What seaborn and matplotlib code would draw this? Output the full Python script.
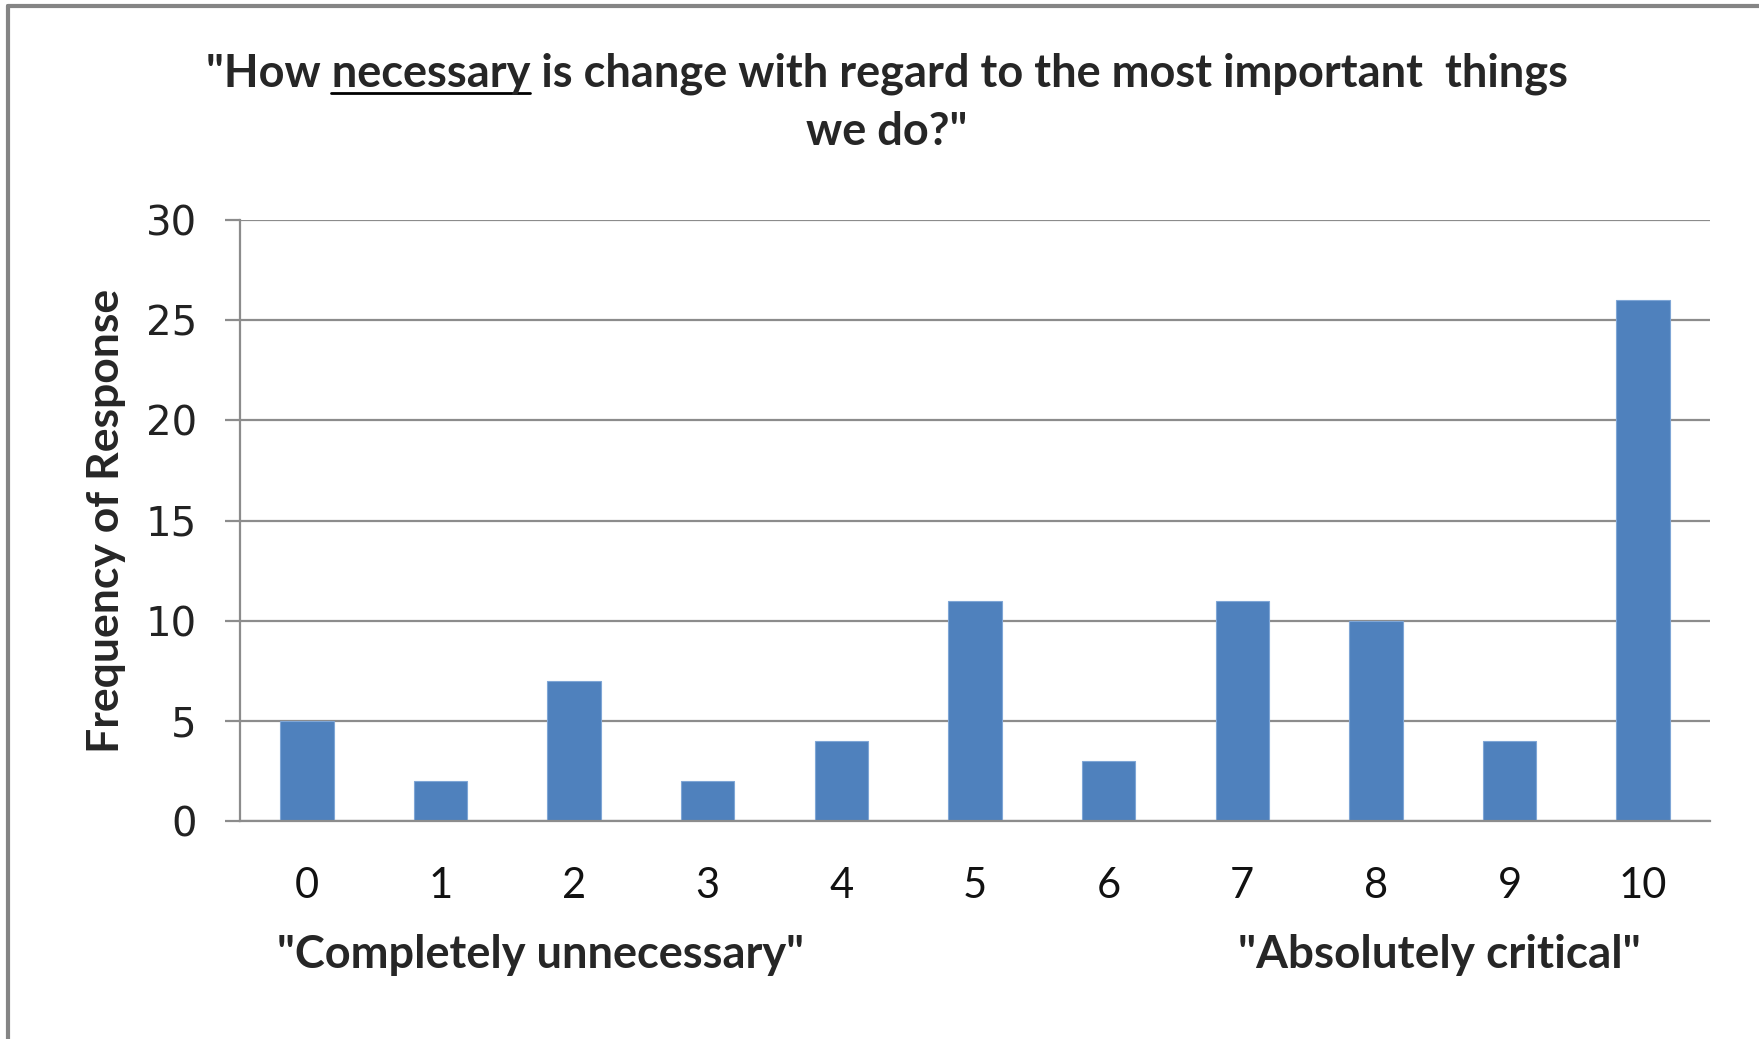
import matplotlib
matplotlib.use("Agg")
import matplotlib.pyplot as plt
from matplotlib.lines import Line2D
import seaborn as sns
import pandas as pd

# Survey responses: rating scale 0-10 and how many people chose each
ratings = ["0", "1", "2", "3", "4", "5", "6", "7", "8", "9", "10"]
counts = [5, 2, 7, 2, 4, 11, 3, 11, 10, 4, 26]
y_ticks = [0, 5, 10, 15, 20, 25, 30]

title_line1 = '"How necessary is change with regard to the most important  things'
title_line2 = 'we do?"'
underlined_word = "necessary"
y_label = "Frequency of Response"
low_anchor = '"Completely unnecessary"'
high_anchor = '"Absolutely critical"'

BAR = "#4F81BD"
GRID = "#8C8C8C"
TEXT_FONT = ["Lato", "DejaVu Sans"]
TITLE_SIZE = 32.5

sns.set_theme(style="white")
plt.rcParams["font.family"] = TEXT_FONT

W, H, DPI = 1759, 1039, 100
fig = plt.figure(figsize=(W / DPI, H / DPI), dpi=DPI)
fig.patch.set_facecolor("white")
ax = fig.add_axes([240 / W, 1 - 821 / H, (1710 - 240) / W, (821 - 220) / H])

df = pd.DataFrame({"rating": ratings, "count": counts})
sns.barplot(data=df, x="rating", y="count", order=ratings, color=BAR,
            width=0.4, saturation=1, edgecolor="#7FA6D6", linewidth=0.8, ax=ax)

ax.set_xlim(-0.5, len(ratings) - 0.5)
ax.set_ylim(0, 30)
ax.set_yticks(y_ticks)
ax.set_yticklabels([str(t) for t in y_ticks], family="DejaVu Sans", fontsize=29, color="#222222")
ax.yaxis.grid(True, color=GRID, linewidth=1.6)
ax.set_axisbelow(True)

# Category labels sit between tick marks, which fall on category boundaries
ax.set_xticks(range(len(ratings)))
ax.set_xticklabels(ratings, fontsize=30, color="#111111")
ax.set_xticks([i - 0.5 for i in range(len(ratings) + 1)], minor=True)
ax.tick_params(axis="x", which="major", length=0, pad=33)
ax.tick_params(axis="x", which="minor", length=11, width=1.6, color=GRID, direction="out")
ax.tick_params(axis="y", which="major", length=11, width=1.6, color=GRID, direction="out", pad=20, left=True)

for side in ("top", "right"):
    ax.spines[side].set_visible(False)
for side in ("left", "bottom"):
    ax.spines[side].set_color(GRID)
    ax.spines[side].set_linewidth(1.6)

ax.set_xlabel("")
ax.set_ylabel(y_label, fontsize=32, fontweight="bold")
ax.yaxis.set_label_coords((126 - 240) / (1710 - 240), 0.5)

# Scale end captions
fig.text(277 / W, 1 - 955 / H, low_anchor, fontsize=32.5, fontweight="bold",
         ha="left", va="center")
fig.text(1641 / W, 1 - 955 / H, high_anchor, fontsize=33, fontweight="bold",
         ha="right", va="center")

# Two-line title with one underlined word
t1 = fig.text(0.504, 1 - 74 / H, title_line1, fontsize=TITLE_SIZE, fontweight="bold",
              ha="center", va="center")
fig.text(0.504, 1 - 132 / H, title_line2, fontsize=TITLE_SIZE, fontweight="bold",
         ha="center", va="center")

fig.canvas.draw()
renderer = fig.canvas.get_renderer()
bb = t1.get_window_extent(renderer)


def text_width(s):
    tmp = fig.text(0, 0, s, fontsize=TITLE_SIZE, fontweight="bold")
    w = tmp.get_window_extent(renderer).width
    tmp.remove()
    return w


start = bb.x0 + text_width('"How ')
end = bb.x0 + text_width('"How ' + underlined_word)
uy = bb.y0 + 2
fig.add_artist(Line2D([start / W, end / W], [uy / H, uy / H], transform=fig.transFigure,
                      color="black", linewidth=2))

# Outer frame (visible on the left and top edges)
fig.add_artist(Line2D([8 / W, 8 / W], [0, 1 - 6 / H], transform=fig.transFigure,
                      color="#858585", linewidth=3))
fig.add_artist(Line2D([8 / W, 1], [1 - 6 / H, 1 - 6 / H], transform=fig.transFigure,
                      color="#858585", linewidth=3))

fig.savefig("out.png", dpi=DPI, facecolor="white")
